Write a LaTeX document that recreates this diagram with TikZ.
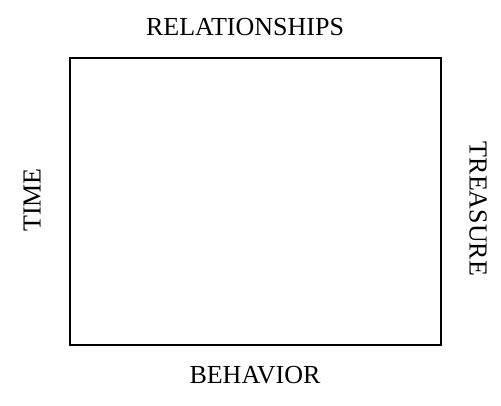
\documentclass[tikz,border=0pt]{standalone}
\usepackage{fontspec}
\setmainfont{Liberation Serif}
\begin{document}
\begin{tikzpicture}[x=1pt,y=-1pt,
  lbl/.style={font=\fontsize{26}{30}\selectfont, inner sep=0pt}]
\useasboundingbox (0,0) rectangle (501,405);
\node[draw, line width=1.2pt, minimum width=371pt, minimum height=287pt, inner sep=0pt] (box) at (255.5,201.5) {};
\node[lbl] (rel) at (245,27) {RELATIONSHIPS};
\node[lbl] (beh) at (255,375) {BEHAVIOR};
\node[lbl, rotate=90] (time) at (32,200) {TIME};
\node[lbl, rotate=-90] (tre) at (478,209) {TREASURE};
\end{tikzpicture}
\end{document}
